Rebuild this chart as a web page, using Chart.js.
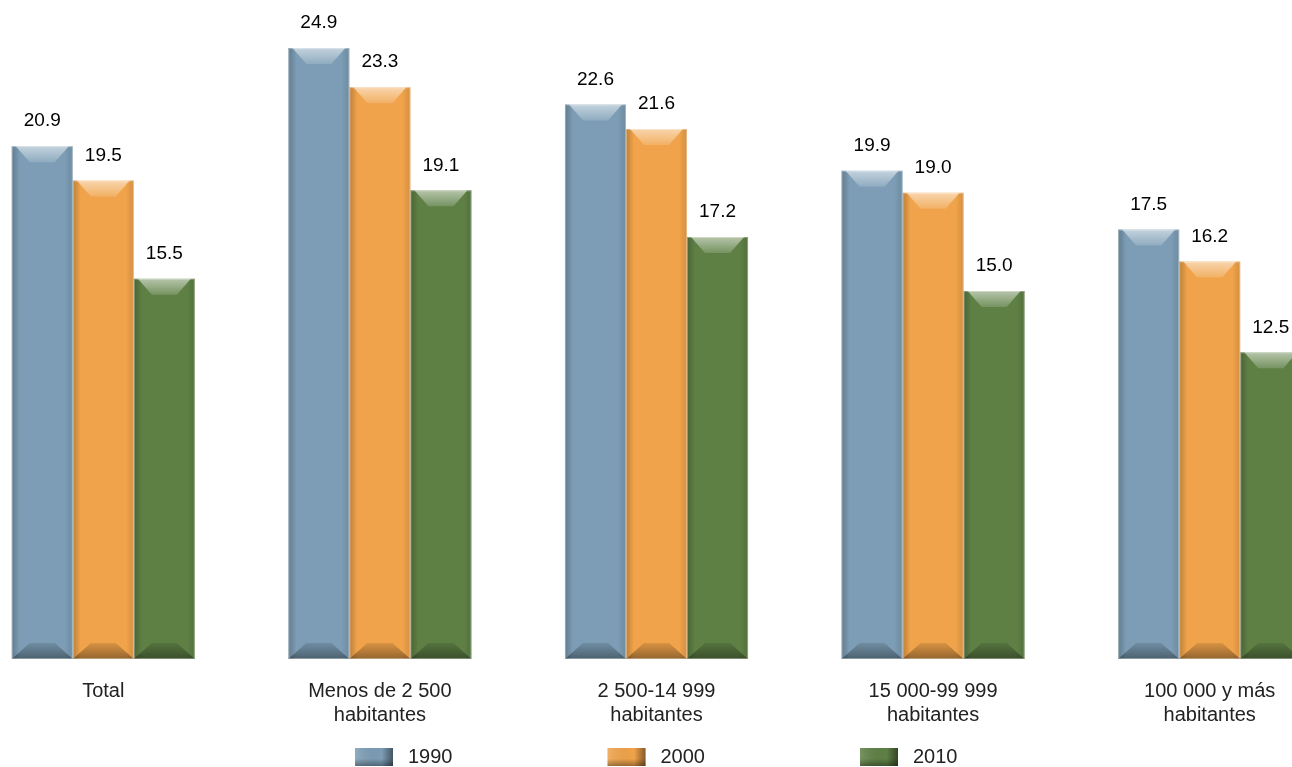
<!DOCTYPE html>
<html lang="es">
<head>
    <meta charset="UTF-8">
    <title>Población por tamaño de localidad</title>
    <script src="https://cdn.jsdelivr.net/npm/chart.js"></script>
    <style>
        body, html {
            margin: 0;
            padding: 0;
            background: #fff;
            overflow: hidden;
            width: 1292px;
            height: 767px;
        }
        #wrap {
            position: absolute;
            left: -35px;
            top: 0;
        }
    </style>
</head>
<body>
<div id="wrap">
    <canvas id="grafica" width="1383" height="767"></canvas>
</div>
<script>
    // Datos
    const categorias = [
        ['Total'],
        ['Menos de 2 500', 'habitantes'],
        ['2 500-14 999', 'habitantes'],
        ['15 000-99 999', 'habitantes'],
        ['100 000 y más', 'habitantes']
    ];
    const anios = ['1990', '2000', '2010'];
    const valores1990 = [20.9, 24.9, 22.6, 19.9, 17.5];
    const valores2000 = [19.5, 23.3, 21.6, 19.0, 16.2];
    const valores2010 = [15.5, 19.1, 17.2, 15.0, 12.5];

    const colores = ['#7c9db5', '#f0a34a', '#5e8045'];
    const fuente = '"Liberation Sans", Arial, sans-serif';

    // Efecto de bisel sobre cada barra
    const biselPlugin = {
        id: 'bisel',
        afterDatasetsDraw(chart) {
            const ctx = chart.ctx;
            chart.data.datasets.forEach((ds, i) => {
                chart.getDatasetMeta(i).data.forEach(bar => {
                    const L = bar.x - bar.width / 2, R = bar.x + bar.width / 2;
                    const T = bar.y, B = bar.base;
                    const b = 16, s = 5, k = 18;
                    ctx.save();
                    // lados
                    let g = ctx.createLinearGradient(L, 0, L + s + 3, 0);
                    g.addColorStop(0, 'rgba(0,0,0,0.22)');
                    g.addColorStop(1, 'rgba(0,0,0,0)');
                    ctx.fillStyle = g;
                    ctx.fillRect(L, T, s + 3, B - T);
                    g = ctx.createLinearGradient(R - s - 3, 0, R, 0);
                    g.addColorStop(0, 'rgba(0,0,0,0)');
                    g.addColorStop(1, 'rgba(0,0,0,0.12)');
                    ctx.fillStyle = g;
                    ctx.fillRect(R - s - 3, T, s + 3, B - T);
                    // tapa superior clara
                    g = ctx.createLinearGradient(0, T, 0, T + b);
                    g.addColorStop(0, 'rgba(255,255,255,0.55)');
                    g.addColorStop(1, 'rgba(255,255,255,0.15)');
                    ctx.fillStyle = g;
                    ctx.beginPath();
                    ctx.moveTo(L + 4, T);
                    ctx.lineTo(R - 4, T);
                    ctx.lineTo(R - k, T + b);
                    ctx.lineTo(L + k, T + b);
                    ctx.closePath();
                    ctx.fill();
                    // base oscura
                    g = ctx.createLinearGradient(0, B - b, 0, B);
                    g.addColorStop(0, 'rgba(0,0,0,0.1)');
                    g.addColorStop(1, 'rgba(0,0,0,0.38)');
                    ctx.fillStyle = g;
                    ctx.beginPath();
                    ctx.moveTo(L, B);
                    ctx.lineTo(R, B);
                    ctx.lineTo(R - k, B - b);
                    ctx.lineTo(L + k, B - b);
                    ctx.closePath();
                    ctx.fill();
                    // borde
                    ctx.strokeStyle = 'rgba(255,255,255,0.35)';
                    ctx.lineWidth = 1;
                    ctx.strokeRect(L + 0.5, T + 0.5, R - L - 1, B - T - 1);
                    ctx.restore();
                });
            });
        }
    };

    // Etiquetas de valores
    const etiquetasPlugin = {
        id: 'etiquetas',
        afterDatasetsDraw(chart) {
            const ctx = chart.ctx;
            ctx.save();
            ctx.font = '19px ' + fuente;
            ctx.fillStyle = '#000';
            ctx.textAlign = 'center';
            ctx.textBaseline = 'middle';
            chart.data.datasets.forEach((ds, i) => {
                chart.getDatasetMeta(i).data.forEach((bar, j) => {
                    ctx.fillText(ds.data[j].toFixed(1), bar.x, bar.y - 25);
                });
            });
            ctx.restore();
        }
    };

    // Leyenda
    const leyendaPlugin = {
        id: 'leyenda',
        afterDraw(chart) {
            const ctx = chart.ctx;
            const paso = 252.5, caja = 38, alto = 18;
            const ancho = paso * (chart.data.datasets.length - 1) + caja + 60;
            let x = chart.width / 2 - ancho / 2;
            const y = chart.height - 10;
            ctx.save();
            ctx.font = '20px ' + fuente;
            ctx.textBaseline = 'middle';
            chart.data.datasets.forEach(ds => {
                ctx.fillStyle = ds.backgroundColor;
                ctx.fillRect(x, y - alto / 2, caja, alto);
                let g = ctx.createLinearGradient(x, 0, x + caja, 0);
                g.addColorStop(0, 'rgba(255,255,255,0.15)');
                g.addColorStop(0.7, 'rgba(0,0,0,0)');
                g.addColorStop(1, 'rgba(0,0,0,0.45)');
                ctx.fillStyle = g;
                ctx.fillRect(x, y - alto / 2, caja, alto);
                g = ctx.createLinearGradient(0, y - alto / 2, 0, y + alto / 2);
                g.addColorStop(0, 'rgba(0,0,0,0)');
                g.addColorStop(0.6, 'rgba(0,0,0,0)');
                g.addColorStop(1, 'rgba(0,0,0,0.35)');
                ctx.fillStyle = g;
                ctx.fillRect(x, y - alto / 2, caja, alto);
                ctx.fillStyle = '#222';
                ctx.fillText(ds.label, x + caja + 15, y);
                x += paso;
            });
            ctx.restore();
        }
    };

    new Chart(document.getElementById('grafica'), {
        type: 'bar',
        data: {
            labels: categorias,
            datasets: [
                { label: anios[0], data: valores1990, backgroundColor: colores[0] },
                { label: anios[1], data: valores2000, backgroundColor: colores[1] },
                { label: anios[2], data: valores2010, backgroundColor: colores[2] }
            ]
        },
        options: {
            responsive: false,
            animation: false,
            devicePixelRatio: 1,
            layout: { padding: { top: 21, bottom: 20, left: 0, right: 0 } },
            datasets: {
                bar: { categoryPercentage: 0.662, barPercentage: 1.0, borderWidth: 0 }
            },
            plugins: {
                legend: { display: false },
                tooltip: { enabled: false }
            },
            scales: {
                x: {
                    grid: { display: false, drawTicks: false },
                    border: { display: false },
                    ticks: {
                        color: '#222',
                        padding: 20,
                        maxRotation: 0,
                        autoSkip: false,
                        font: { family: fuente, size: 20 }
                    }
                },
                y: {
                    display: false,
                    min: 0,
                    max: 26
                }
            }
        },
        plugins: [biselPlugin, etiquetasPlugin, leyendaPlugin]
    });
</script>
</body>
</html>
